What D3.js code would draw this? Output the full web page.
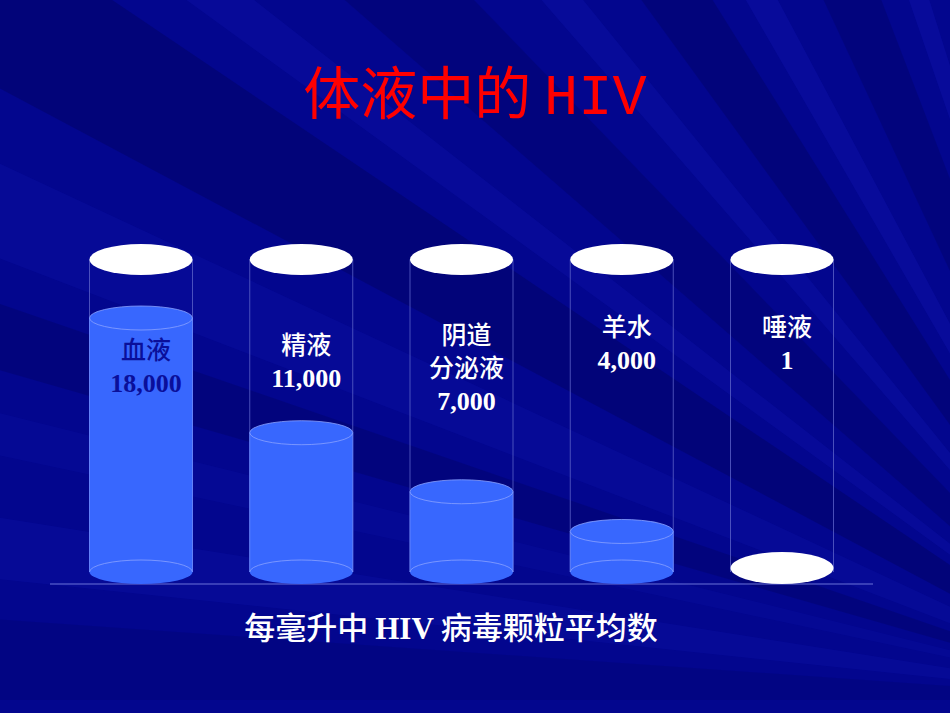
<!DOCTYPE html>
<html>
<head>
<meta charset="utf-8">
<script src="https://cdn.jsdelivr.net/npm/d3@7"></script>
<style>
  html, body { margin: 0; padding: 0; background: #03058c; }
  svg { display: block; }
</style>
</head>
<body>
<svg id="chart"></svg>
<script>
// body fluids and mean HIV particles per ml
const fluids = ['血液', '精液', '阴道分泌液', '羊水', '唾液'];
const labelLines = [['血液'], ['精液'], ['阴道', '分泌液'], ['羊水'], ['唾液']];
const counts = [18000, 11000, 7000, 4000, 1];

const titleCjk = '体液中的';
const titleLatin = 'HIV';
const caption = ['每毫升中 ', 'HIV', ' 病毒颗粒平均数'];

// background ray wedges: [start angle, end angle, colour, opacity] seen from the lower right
const rays = [
  [196, 199, '#00004a', 0.25], [201, 205, '#1a22c8', 0.15], [208, 214, '#00004a', 0.3],
  [216, 218, '#1a22c8', 0.18], [221, 226, '#00004a', 0.25], [229, 231, '#1a22c8', 0.2],
  [234, 238, '#00004a', 0.28], [240, 242, '#1a22c8', 0.22], [245, 249, '#00004a', 0.25],
  [251, 252.5, '#1a22c8', 0.22], [255, 258, '#00004a', 0.25], [260, 261.5, '#1a22c8', 0.25],
  [264, 268, '#00004a', 0.22], [186, 189, '#1a22c8', 0.15], [180, 184, '#00004a', 0.15],
  [192, 194, '#1a22c8', 0.12]
];

const config = {
  width: 950, height: 713,
  rx: 51.5,
  rimY: 259.5, rimRy: 15.5,
  bottomY: 572, liquidRy: 12,
  baseY: 584, baseX: [50, 873],
  labelY: [359, 354, 344, 336, 336],
  lineGap: 33,
  labelDx: 5
};

const svg = d3.select('#chart')
    .attr('width', config.width)
    .attr('height', config.height);

// background with rays
svg.append('rect')
    .attr('width', config.width)
    .attr('height', config.height)
    .attr('fill', '#03068e');

const origin = [1150, 700];
const R = 2200;
const rad = a => a * Math.PI / 180;
svg.append('g').selectAll('path')
    .data(rays)
    .join('path')
      .attr('d', d => {
        const p1 = [origin[0] + R * Math.cos(rad(d[0])), origin[1] + R * Math.sin(rad(d[0]))];
        const p2 = [origin[0] + R * Math.cos(rad(d[1])), origin[1] + R * Math.sin(rad(d[1]))];
        return `M${origin}L${p1}L${p2}Z`;
      })
      .attr('fill', d => d[2])
      .attr('opacity', d => d[3]);

// scales
const xScale = d3.scalePoint()
    .domain(fluids)
    .range([141, 782]);

const levelScale = d3.scalePow()
    .exponent(1.22)
    .domain([0, 18000])
    .range([config.bottomY, 318]);

const fmt = d3.format(',');
const data = fluids.map((f, i) => ({
  name: f, lines: labelLines[i], value: counts[i], labelY: config.labelY[i]
}));

// title
svg.append('text')
    .attr('x', 475)
    .attr('y', 114)
    .attr('text-anchor', 'middle')
    .attr('fill', '#ff0000')
    .style('font-size', '57px')
    .style('font-family', '"Noto Sans CJK SC", sans-serif')
    .call(t => {
      t.append('tspan').text(titleCjk + ' ');
      t.append('tspan').style('font-family', '"Liberation Mono", monospace').text(titleLatin);
    });

// baseline
svg.append('line')
    .attr('x1', config.baseX[0])
    .attr('x2', config.baseX[1])
    .attr('y1', config.baseY)
    .attr('y2', config.baseY)
    .attr('stroke', '#6a72d8')
    .attr('stroke-width', 1);

const cyl = svg.append('g').selectAll('g')
    .data(data)
    .join('g')
      .attr('transform', d => `translate(${xScale(d.name)},0)`);

// glass outline
cyl.append('line')
    .attr('x1', -config.rx).attr('x2', -config.rx)
    .attr('y1', config.rimY).attr('y2', config.bottomY)
    .attr('stroke', '#5c62c8').attr('stroke-width', 0.8);
cyl.append('line')
    .attr('x1', config.rx).attr('x2', config.rx)
    .attr('y1', config.rimY).attr('y2', config.bottomY)
    .attr('stroke', '#5c62c8').attr('stroke-width', 0.8);

// liquid
const filled = cyl.filter(d => config.bottomY - levelScale(d.value) > 2);

filled.append('ellipse')
    .attr('cx', 0).attr('cy', config.bottomY)
    .attr('rx', config.rx).attr('ry', config.liquidRy)
    .attr('fill', '#3867fe');
filled.append('rect')
    .attr('x', -config.rx)
    .attr('width', config.rx * 2)
    .attr('y', d => levelScale(d.value))
    .attr('height', d => config.bottomY - levelScale(d.value))
    .attr('fill', '#3867fe');
filled.append('path')
    .attr('d', `M${-config.rx},${config.bottomY}A${config.rx},${config.liquidRy} 0 0 1 ${config.rx},${config.bottomY}`)
    .attr('fill', 'none')
    .attr('stroke', '#8aa2ff')
    .attr('stroke-width', 0.8);
filled.append('line')
    .attr('x1', -config.rx).attr('x2', -config.rx)
    .attr('y1', d => levelScale(d.value)).attr('y2', config.bottomY)
    .attr('stroke', '#6c8cff').attr('stroke-width', 0.8);
filled.append('line')
    .attr('x1', config.rx).attr('x2', config.rx)
    .attr('y1', d => levelScale(d.value)).attr('y2', config.bottomY)
    .attr('stroke', '#6c8cff').attr('stroke-width', 0.8);
filled.append('ellipse')
    .attr('cx', 0).attr('cy', d => levelScale(d.value))
    .attr('rx', config.rx).attr('ry', config.liquidRy)
    .attr('fill', '#3867fe')
    .attr('stroke', '#8aa2ff')
    .attr('stroke-width', 0.8);

// empty glass: white bottom
cyl.filter(d => config.bottomY - levelScale(d.value) <= 2)
  .append('ellipse')
    .attr('cx', 0).attr('cy', config.bottomY - 4)
    .attr('rx', config.rx).attr('ry', config.rimRy + 0.5)
    .attr('fill', '#ffffff');

// white rim
cyl.append('ellipse')
    .attr('cx', 0).attr('cy', config.rimY)
    .attr('rx', config.rx).attr('ry', config.rimRy)
    .attr('fill', '#ffffff');

// labels
cyl.each(function(d) {
  const g = d3.select(this);
  const lines = d.lines.concat([fmt(d.value)]);
  const inLiquid = d.labelY - 20 > levelScale(d.value);
  lines.forEach((s, j) => {
    const isNum = j === lines.length - 1;
    g.append('text')
        .attr('x', config.labelDx)
        .attr('y', d.labelY + j * config.lineGap)
        .attr('text-anchor', 'middle')
        .attr('fill', inLiquid ? '#0a0f9a' : '#ffffff')
        .style('font-family', isNum ? '"Liberation Serif", serif' : '"Noto Sans CJK SC", sans-serif')
        .style('font-weight', isNum ? 'bold' : '500')
        .style('font-size', isNum ? '26px' : '25px')
        .text(s);
  });
});

// caption
svg.append('text')
    .attr('x', 451)
    .attr('y', 639)
    .attr('text-anchor', 'middle')
    .attr('fill', '#ffffff')
    .style('font-size', '31px')
    .style('font-family', '"Noto Sans CJK SC", sans-serif')
    .style('font-weight', '500')
    .call(t => {
      t.append('tspan').text(caption[0]);
      t.append('tspan')
          .style('font-family', '"Liberation Serif", serif')
          .style('font-weight', 'bold')
          .style('font-size', '31px')
          .text(caption[1]);
      t.append('tspan').text(caption[2]);
    });
</script>
</body>
</html>
